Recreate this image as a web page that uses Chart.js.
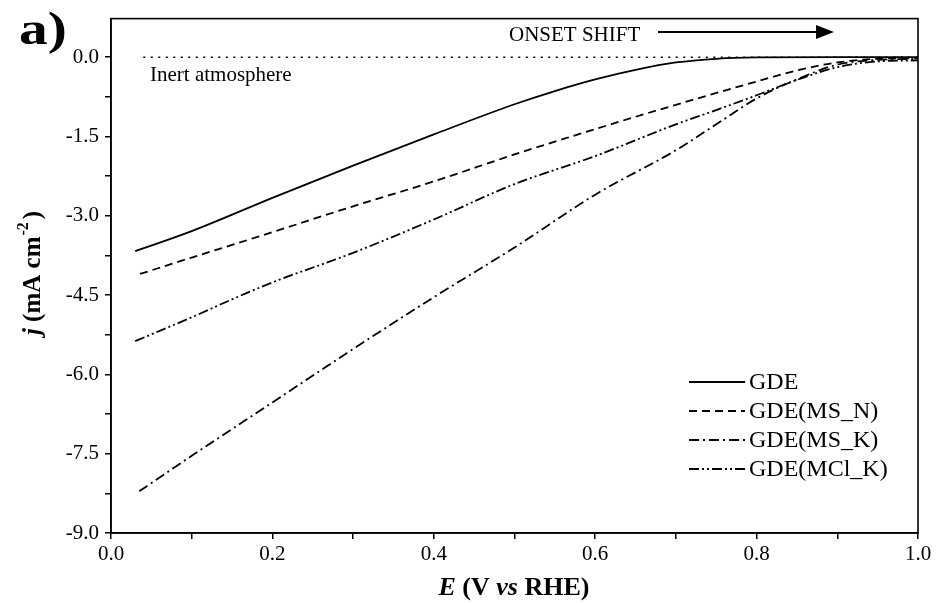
<!DOCTYPE html>
<html>
<head>
<meta charset="utf-8">
<script src="https://cdn.jsdelivr.net/npm/chart.js@4/dist/chart.umd.min.js"></script>
<style>
  html, body { margin: 0; padding: 0; background: #fff; }
  #wrap { width: 938px; height: 603px; }
</style>
</head>
<body>
<div id="wrap"><canvas id="chart" width="938" height="603"></canvas></div>
<script>
// --- data ---
const seriesNames = ['GDE', 'GDE(MS_N)', 'GDE(MS_K)', 'GDE(MCl_K)'];

const gdeE = [0.03, 0.1, 0.2, 0.3, 0.4, 0.5, 0.55, 0.6, 0.65, 0.7, 0.75, 0.8, 0.9, 1.0];
const gdeJ = [-3.67, -3.29, -2.66, -2.05, -1.46, -0.89, -0.64, -0.42, -0.24, -0.1, -0.03, -0.005, 0, 0];

const msnE = [0.036, 0.1, 0.2, 0.3, 0.4, 0.5, 0.6, 0.7, 0.8, 0.85, 0.9, 0.95, 1.0];
const msnJ = [-4.1, -3.79, -3.31, -2.82, -2.35, -1.84, -1.36, -0.9, -0.46, -0.25, -0.1, -0.03, -0.02];

const mskE = [0.035, 0.1, 0.2, 0.3, 0.4, 0.5, 0.6, 0.7, 0.75, 0.8, 0.85, 0.9, 0.95, 1.0];
const mskJ = [-8.21, -7.54, -6.53, -5.52, -4.54, -3.6, -2.6, -1.76, -1.27, -0.78, -0.42, -0.14, -0.05, -0.03];

const mclE = [0.03, 0.1, 0.15, 0.2, 0.3, 0.4, 0.5, 0.6, 0.7, 0.75, 0.8, 0.85, 0.9, 0.95, 1.0];
const mclJ = [-5.37, -4.92, -4.58, -4.26, -3.7, -3.07, -2.4, -1.87, -1.27, -1.0, -0.72, -0.43, -0.19, -0.08, -0.06];

// dotted reference line (inert atmosphere)
const inertE = [0.04, 1.0];
const inertJ = [0, 0];

const xTickValues = [0, 0.1, 0.2, 0.3, 0.4, 0.5, 0.6, 0.7, 0.8, 0.9, 1.0];
const xTickLabels = ['0.0', '', '0.2', '', '0.4', '', '0.6', '', '0.8', '', '1.0'];
const yTickValues = [-9, -8.25, -7.5, -6.75, -6, -5.25, -4.5, -3.75, -3, -2.25, -1.5, -0.75, 0];
const yTickLabels = ['-9.0', '', '-7.5', '', '-6.0', '', '-4.5', '', '-3.0', '', '-1.5', '', '0.0'];

const SERIF = '"Liberation Serif", "Times New Roman", serif';

function pts(xs, ys) {
    return xs.map((x, i) => ({ x: x, y: ys[i] }));
}

function lineSet(label, xs, ys, dash) {
    return {
        label: label,
        data: pts(xs, ys),
        borderColor: '#000',
        borderWidth: 1.8,
        borderDash: dash,
        pointRadius: 0,
        fill: false,
        cubicInterpolationMode: 'monotone'
    };
}

const datasets = [
    lineSet(seriesNames[0], gdeE, gdeJ, []),
    lineSet(seriesNames[1], msnE, msnJ, [8, 5]),
    lineSet(seriesNames[2], mskE, mskJ, [10, 4, 2, 4]),
    lineSet(seriesNames[3], mclE, mclJ, [10, 3, 2, 3, 2, 3]),
    Object.assign(lineSet('inert', inertE, inertJ, [2, 5.5]), { borderWidth: 1.6, inLegend: false })
];

// draws frame, legend, annotations and the styled axis titles
const decorations = {
    id: 'decorations',
    afterDraw(chart) {
        const ctx = chart.ctx;
        const a = chart.chartArea;
        ctx.save();

        // closed frame
        ctx.strokeStyle = '#000';
        ctx.lineWidth = 1.6;
        ctx.strokeRect(a.left, a.top, a.right - a.left, a.bottom - a.top);

        ctx.fillStyle = '#000';
        ctx.textBaseline = 'middle';
        ctx.textAlign = 'left';

        // panel letter (the original glyphs are a bit wider)
        ctx.save();
        ctx.translate(19, 32);
        ctx.scale(1.25, 1);
        ctx.font = 'bold 46px ' + SERIF;
        ctx.fillText('a)', 0, 0);
        ctx.restore();

        // onset shift arrow
        ctx.font = '21px ' + SERIF;
        ctx.fillText('ONSET SHIFT', 509, 35);
        ctx.lineWidth = 2;
        ctx.beginPath();
        ctx.moveTo(658, 32);
        ctx.lineTo(818, 32);
        ctx.stroke();
        ctx.beginPath();
        ctx.moveTo(834, 32);
        ctx.lineTo(816, 25);
        ctx.lineTo(816, 39);
        ctx.closePath();
        ctx.fill();

        ctx.font = '21px ' + SERIF;
        ctx.fillText('Inert atmosphere', 150, 75);

        // legend
        let y = 382;
        ctx.font = '24px ' + SERIF;
        chart.data.datasets.forEach(ds => {
            if (ds.inLegend === false) return;
            ctx.beginPath();
            ctx.setLineDash(ds.borderDash);
            ctx.lineWidth = 1.8;
            ctx.moveTo(689, y);
            ctx.lineTo(745, y);
            ctx.stroke();
            ctx.setLineDash([]);
            ctx.fillText(ds.label, 749, y + 1);
            y += 29;
        });

        // x title: E (V vs RHE)
        const xParts = [
            ['E', 'italic bold'], [' (V ', 'bold'], ['vs', 'italic bold'], [' RHE)', 'bold']
        ];
        drawParts(ctx, xParts, 514, 588, 26);

        // y title, rotated
        ctx.save();
        ctx.translate(34, 273);
        ctx.rotate(-Math.PI / 2);
        const size = 25;
        const yParts = [['j', 'italic bold'], [' (mA cm', 'bold']];
        let w = 0;
        yParts.forEach(p => { ctx.font = p[1] + ' ' + size + 'px ' + SERIF; w += ctx.measureText(p[0]).width; });
        ctx.font = 'bold 16px ' + SERIF;
        const supW = ctx.measureText('-2').width + 4;
        ctx.font = 'bold ' + size + 'px ' + SERIF;
        const closeW = ctx.measureText(')').width;
        let x = -(w + supW + closeW) / 2;
        yParts.forEach(p => {
            ctx.font = p[1] + ' ' + size + 'px ' + SERIF;
            ctx.fillText(p[0], x, 0);
            x += ctx.measureText(p[0]).width;
        });
        ctx.font = 'bold 16px ' + SERIF;
        ctx.fillText('-2', x + 1, -10);
        x += supW;
        ctx.font = 'bold ' + size + 'px ' + SERIF;
        ctx.fillText(')', x, 0);
        ctx.restore();

        ctx.restore();
    }
};

function drawParts(ctx, parts, cx, cy, size) {
    let total = 0;
    parts.forEach(p => { ctx.font = p[1] + ' ' + size + 'px ' + SERIF; total += ctx.measureText(p[0]).width; });
    let x = cx - total / 2;
    ctx.textAlign = 'left';
    parts.forEach(p => {
        ctx.font = p[1] + ' ' + size + 'px ' + SERIF;
        ctx.fillText(p[0], x, cy);
        x += ctx.measureText(p[0]).width;
    });
}

const axisGrid = {
    display: true,
    drawOnChartArea: false,
    drawTicks: true,
    tickLength: 6,
    color: '#000',
    lineWidth: 1.5
};

new Chart(document.getElementById('chart'), {
    type: 'line',
    data: { datasets: datasets },
    options: {
        responsive: false,
        animation: false,
        layout: { padding: { left: 0, right: 20, top: 16, bottom: 0 } },
        plugins: {
            legend: { display: false },
            tooltip: { enabled: false }
        },
        scales: {
            x: {
                type: 'linear',
                min: 0,
                max: 1,
                grid: axisGrid,
                border: { display: true, color: '#000', width: 1.6 },
                afterBuildTicks: s => { s.ticks = xTickValues.map(v => ({ value: v })); },
                afterFit: s => { s.height = 70; },
                ticks: {
                    color: '#000',
                    font: { family: SERIF, size: 21 },
                    padding: 3,
                    maxRotation: 0,
                    autoSkip: false,
                    callback: (v, i) => xTickLabels[i]
                }
            },
            y: {
                type: 'linear',
                min: -9,
                max: 0.73,
                grid: axisGrid,
                border: { display: true, color: '#000', width: 1.6 },
                afterBuildTicks: s => { s.ticks = yTickValues.map(v => ({ value: v })); },
                afterFit: s => { s.width = 111; },
                ticks: {
                    color: '#000',
                    font: { family: SERIF, size: 21 },
                    padding: 6,
                    autoSkip: false,
                    callback: (v, i) => yTickLabels[i]
                }
            }
        }
    },
    plugins: [decorations]
});
</script>
</body>
</html>
